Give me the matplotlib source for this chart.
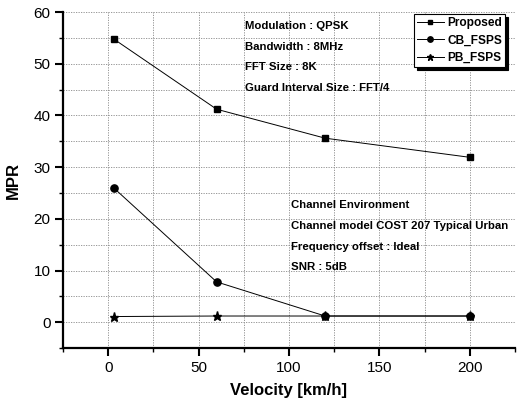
import matplotlib
matplotlib.use("Agg")
import matplotlib.pyplot as plt
from matplotlib.ticker import MultipleLocator

plt.rcParams['font.family'] = ['Liberation Sans', 'DejaVu Sans']

velocity = [3, 60, 120, 200]
proposed = [54.8, 41.2, 35.6, 31.9]
cb_fsps = [26.0, 7.8, 1.2, 1.2]
pb_fsps = [1.1, 1.2, 1.2, 1.2]

info_top = ["Modulation : QPSK", "Bandwidth : 8MHz", "FFT Size : 8K",
            "Guard Interval Size : FFT/4"]
info_bottom = ["Channel Environment", "Channel model COST 207 Typical Urban",
               "Frequency offset : Ideal", "SNR : 5dB"]

fig = plt.figure(figsize=(5.18, 4.01), dpi=100)
ax = fig.add_axes([0.1216, 0.132, 0.994 - 0.1216, 0.970 - 0.132])

ax.plot(velocity, proposed, color='black', lw=0.7, marker='s', ms=4.6,
        label='Proposed')
ax.plot(velocity, cb_fsps, color='black', lw=0.7, marker='o', ms=5.2,
        label='CB_FSPS')
ax.plot(velocity, pb_fsps, color='black', lw=0.7, marker='*', ms=6.5,
        label='PB_FSPS')

ax.set_xlim(-25, 225)
ax.set_ylim(-5, 60)
ax.xaxis.set_major_locator(MultipleLocator(50))
ax.xaxis.set_minor_locator(MultipleLocator(25))
ax.yaxis.set_major_locator(MultipleLocator(10))
ax.yaxis.set_minor_locator(MultipleLocator(5))
ax.grid(which='both', color='#888888', ls=(0, (1.5, 1.5)), lw=0.6)
ax.set_axisbelow(True)

for s in ['top', 'right']:
    ax.spines[s].set_visible(False)
for s in ['left', 'bottom']:
    ax.spines[s].set_linewidth(1.6)
ax.tick_params(which='major', direction='out', length=6, width=1.5,
               labelsize=11, pad=3)
ax.tick_params(which='minor', direction='out', length=3, width=1.0)

ax.set_xlabel('Velocity [km/h]', fontsize=12, fontweight='bold', labelpad=6)
ax.set_ylabel('MPR', fontsize=12, fontweight='bold', labelpad=9)

for i, t in enumerate(info_top):
    ax.text(75.5, 57.3 - i * 4.0, t, fontsize=8.2, fontweight='bold',
            va='center', ha='left')
for i, t in enumerate(info_bottom):
    ax.text(101, 22.6 - i * 4.0, t, fontsize=8.2, fontweight='bold',
            va='center', ha='left')

leg = ax.legend(loc='upper right', bbox_to_anchor=(0.978, 0.994),
                prop={'weight': 'bold', 'size': 8.6},
                frameon=True, fancybox=False,
                shadow={'color': 'black', 'alpha': 1},
                handlelength=2.2, handletextpad=0.3, borderpad=0.25,
                labelspacing=0.45, borderaxespad=0, markerscale=0.75)
leg.get_frame().set_edgecolor('black')
leg.get_frame().set_linewidth(0.8)

fig.savefig('out.png', dpi=100)
